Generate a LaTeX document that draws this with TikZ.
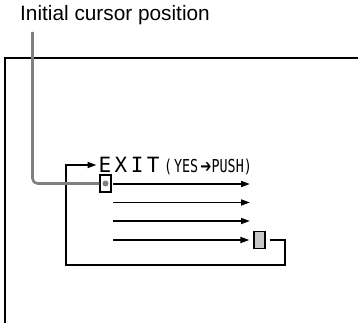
\documentclass[tikz,border=0pt]{standalone}
\usepackage{graphicx}
\usepackage{fontspec}
\setmainfont{Liberation Sans}
\newfontfamily\lcdfont{DejaVu Sans Mono}
\newfontfamily\symfont{DejaVu Sans}
\usetikzlibrary{arrows.meta}

\begin{document}
\begin{tikzpicture}[x = 1pt, y = -1pt,
    line/.style = {line width = 1.7pt, black},
    arr/.style = {line, -{Triangle[length=9pt, width=6pt]}},
    lead/.style = {line width = 2.6pt, black!50, rounded corners = 5pt},
    lcd/.style = {anchor = base west, inner sep = 0pt},
    cell/.style = {draw, line width = 1.2pt, minimum width = 11pt,
                   minimum height = 17pt, inner sep = 0pt}]
\useasboundingbox (0,0) rectangle (358,323);

\node [anchor = base west, inner sep = 0pt,
       font = \fontsize{20.8}{24}\selectfont] (title) at (20,20.7)
       {Initial cursor position};

% screen edge
\draw [line] (358,58) -| (5,323);

\node [lcd, font = \lcdfont\fontsize{21}{22}\selectfont] (exit) at (98.5,172.7)
   {E\kern3.4pt X\kern3.4pt I\kern3.4pt T};
\node [lcd] (yes) at (164,172.7)
   {\scalebox{0.75}[1]{\lcdfont\fontsize{17.8}{20}\selectfont (\kern2.5pt YES\kern3pt{\symfont\char"2794}PUSH)}};

\node [cell, fill = white] (cursor) at (105.5,183.5) {};
\node [cell, fill = black!22] (last) at (259.5,240) {};

% menu lines
\foreach \y [count = \i] in {184, 202.5, 221}
  {
   \coordinate (from\i) at (113,\y);
   \coordinate (to\i) at (250,\y);
   \draw [arr] (from\i) -- (to\i);
  }
\coordinate (from4) at (113,240);
\draw [arr, shorten >= 4pt] (from4) -- (last);

% back to EXIT
\coordinate (loopin) at ([yshift = 7.7pt]exit.base west);
\draw [arr, shorten >= 2pt] ([xshift = 4pt]last.east) -- (285,240)
    |- (66,265) |- (loopin);

\coordinate (leadtop) at (32.5,32);
\draw [lead] (leadtop) |- (cursor.west);
\node [circle, fill = black!50, minimum size = 6pt, inner sep = 0pt] (dot) at (cursor) {};
\end{tikzpicture}
\end{document}
